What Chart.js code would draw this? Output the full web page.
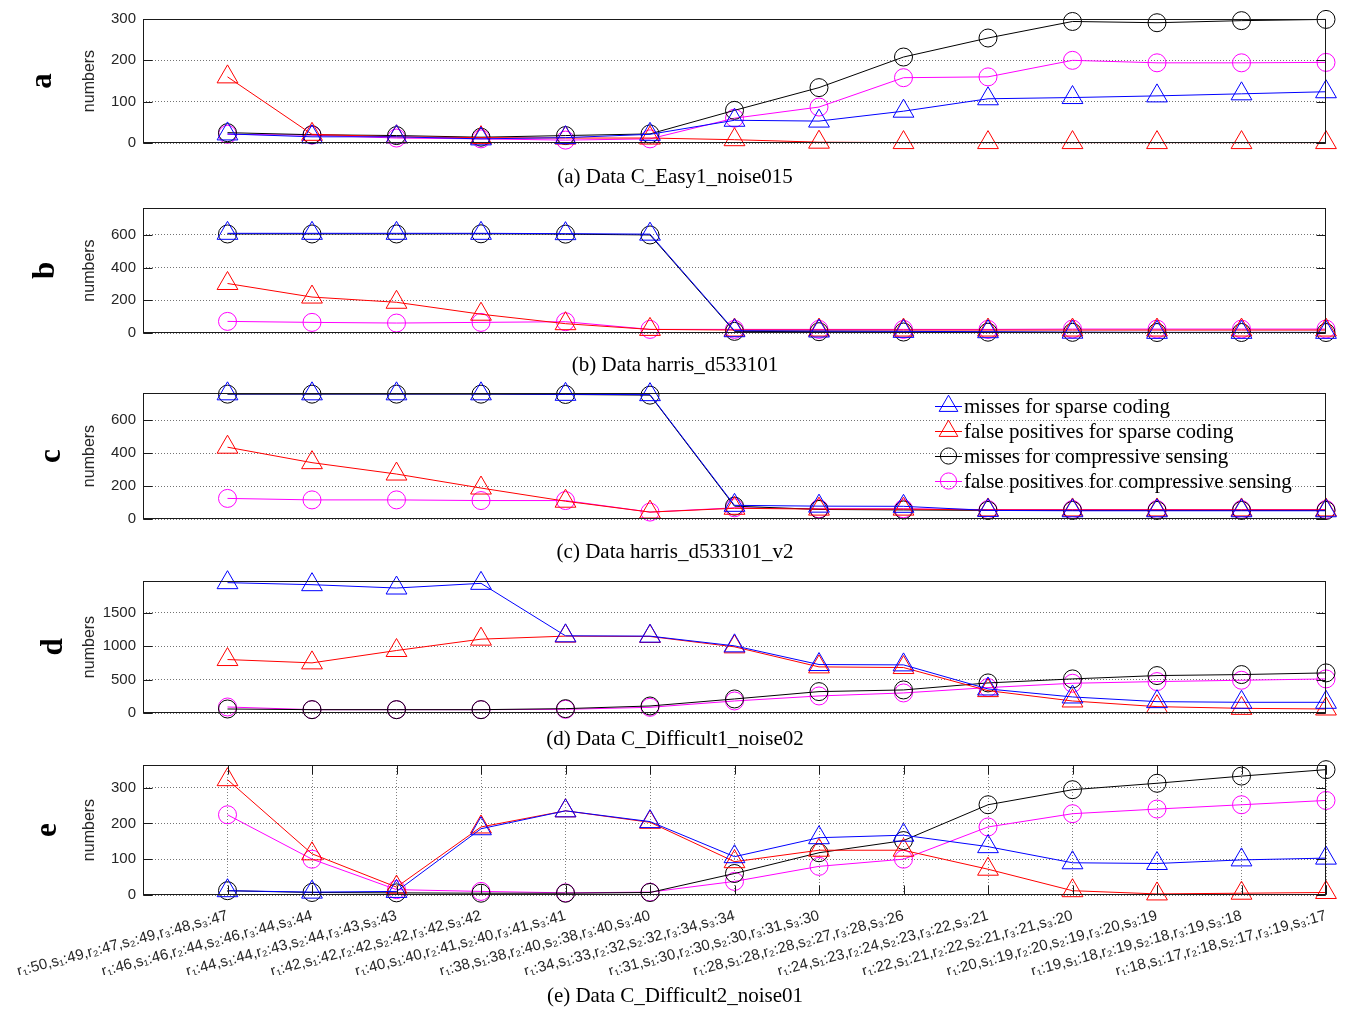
<!DOCTYPE html>
<html>
<head>
<meta charset="utf-8">
<script src="https://cdn.jsdelivr.net/npm/chart.js@4.4.1/dist/chart.umd.min.js"></script>
<style>
  html, body { margin: 0; padding: 0; background: #fff; }
  #fig { position: relative; width: 1346px; height: 1009px; overflow: hidden; background: #fff; }
  #fig canvas { position: absolute; left: 0; }
</style>
</head>
<body>
<div id="fig"></div>
<script>
// ---- series definitions ----
const seriesNames = [
  'misses for sparse coding',
  'false positives for sparse coding',
  'misses for compressive sensing',
  'false positives for compressive sensing'
];
const seriesColors = ['#0000ff', '#ff0000', '#000000', '#ff00ff'];
const seriesMarkers = ['triangle', 'triangle', 'circle', 'circle'];

// ---- parameter settings along the horizontal axis ----
const settingLabels = [
  'r₁:50,s₁:49,r₂:47,s₂:49,r₃:48,s₃:47',
  'r₁:46,s₁:46,r₂:44,s₂:46,r₃:44,s₃:44',
  'r₁:44,s₁:44,r₂:43,s₂:44,r₃:43,s₃:43',
  'r₁:42,s₁:42,r₂:42,s₂:42,r₃:42,s₃:42',
  'r₁:40,s₁:40,r₂:41,s₂:40,r₃:41,s₃:41',
  'r₁:38,s₁:38,r₂:40,s₂:38,r₃:40,s₃:40',
  'r₁:34,s₁:33,r₂:32,s₂:32,r₃:34,s₃:34',
  'r₁:31,s₁:30,r₂:30,s₂:30,r₃:31,s₃:30',
  'r₁:28,s₁:28,r₂:28,s₂:27,r₃:28,s₃:26',
  'r₁:24,s₁:23,r₂:24,s₂:23,r₃:22,s₃:21',
  'r₁:22,s₁:21,r₂:22,s₂:21,r₃:21,s₃:20',
  'r₁:20,s₁:19,r₂:20,s₂:19,r₃:20,s₃:19',
  'r₁:19,s₁:18,r₂:19,s₂:18,r₃:19,s₃:18',
  'r₁:18,s₁:17,r₂:18,s₂:17,r₃:19,s₃:17'
];

// ---- (a) C_Easy1_noise015 ----
const aMissSC = [22, 15, 15, 10, 13, 21, 55, 53, 77, 107, 110, 114, 119, 124];
const aFpSC   = [160, 21, 15, 13, 12, 12, 8, 2, 1, 1, 1, 1, 1, 1];
const aMissCS = [25, 20, 18, 14, 18, 22, 79, 134, 208, 254, 294, 291, 296, 299];
const aFpCS   = [21, 19, 12, 10, 7, 10, 60, 87, 158, 160, 200, 194, 194, 195];
const aTicks  = [0, 100, 200, 300];

// ---- (b) harris_d533101 ----
const bMissSC = [610, 610, 610, 610, 608, 605, 14, 12, 10, 8, 5, 4, 4, 4];
const bFpSC   = [303, 220, 188, 115, 57, 22, 18, 18, 18, 18, 18, 18, 18, 18];
const bMissCS = [606, 606, 606, 607, 605, 600, 10, 8, 6, 5, 4, 3, 3, 3];
const bFpCS   = [71, 65, 61, 65, 69, 22, 22, 22, 22, 22, 24, 24, 24, 24];
const bTicks  = [0, 200, 400, 600];

// ---- (c) harris_d533101_v2 ----
const cMissSC = [760, 760, 760, 760, 757, 755, 83, 78, 77, 52, 50, 50, 50, 50];
const cFpSC   = [436, 342, 273, 188, 108, 42, 65, 60, 60, 55, 55, 55, 55, 55];
const cMissCS = [758, 758, 758, 758, 756, 752, 78, 58, 55, 52, 52, 52, 52, 52];
const cFpCS   = [125, 116, 116, 112, 112, 42, 68, 62, 62, 57, 57, 57, 57, 57];
const cTicks  = [0, 200, 400, 600];

// ---- (d) C_Difficult1_noise02 ----
const dMissSC = [1950, 1920, 1870, 1940, 1155, 1150, 1005, 725, 720, 360, 240, 170, 160, 160];
const dFpSC   = [800, 750, 935, 1105, 1150, 1145, 990, 690, 680, 335, 180, 95, 70, 60];
const dMissCS = [60, 50, 50, 50, 65, 105, 210, 320, 345, 450, 510, 560, 575, 600];
const dFpCS   = [90, 50, 50, 50, 55, 85, 180, 255, 300, 380, 445, 470, 490, 510];
const dTicks  = [0, 500, 1000, 1500];

// ---- (e) C_Difficult2_noise01 ----
const eMissSC = [12, 8, 10, 185, 235, 205, 107, 160, 167, 135, 90, 88, 98, 103];
const eFpSC   = [322, 115, 22, 190, 235, 203, 93, 125, 125, 72, 12, 3, 5, 7];
const eMissCS = [12, 7, 6, 5, 5, 7, 60, 118, 152, 252, 294, 312, 332, 350];
const eFpCS   = [224, 100, 15, 10, 6, 8, 38, 80, 100, 190, 227, 240, 252, 264];
const eTicks  = [0, 100, 200, 300];

// ---- panel layout (page pixels) ----
const FIG_W = 1346;
const PLOT_LEFT = 143;
const PLOT_RIGHT = 1326;
const X_AXIS_H = 80;

const panels = [
  { letter: 'a', title: '(a) Data C_Easy1_noise015', series: [aMissSC, aFpSC, aMissCS, aFpCS], ticks: aTicks, yMax: 300,
    top: 0, height: 195, plotTop: 19, plotBottom: 143, titleY: 177, letterX: 51, xLabels: false, legend: false },
  { letter: 'b', title: '(b) Data harris_d533101', series: [bMissSC, bFpSC, bMissCS, bFpCS], ticks: bTicks, yMax: 765,
    top: 195, height: 185, plotTop: 206, plotBottom: 333, titleY: 365, letterX: 54, xLabels: false, legend: false },
  { letter: 'c', title: '(c) Data harris_d533101_v2', series: [cMissSC, cFpSC, cMissCS, cFpCS], ticks: cTicks, yMax: 765,
    top: 380, height: 188, plotTop: 393, plotBottom: 519, titleY: 552, letterX: 60, xLabels: false, legend: true },
  { letter: 'd', title: '(d) Data C_Difficult1_noise02', series: [dMissSC, dFpSC, dMissCS, dFpCS], ticks: dTicks, yMax: 1975,
    top: 568, height: 184, plotTop: 580, plotBottom: 713, titleY: 739, letterX: 62, xLabels: false, legend: false },
  { letter: 'e', title: '(e) Data C_Difficult2_noise01', series: [eMissSC, eFpSC, eMissCS, eFpCS], ticks: eTicks, yMax: 363,
    top: 752, height: 257, plotTop: 763, plotBottom: 895, titleY: 996, letterX: 56, xLabels: true, legend: false }
];

const SANS = '"Liberation Sans", Arial, "DejaVu Sans", sans-serif';
const SERIF = '"Liberation Serif", "Times New Roman", "DejaVu Serif", serif';

function markerRadius(style) { return style === 'triangle' ? 12 : 9; }

function drawMarker(ctx, style, x, y, r, color) {
  ctx.save();
  ctx.strokeStyle = color;
  ctx.lineWidth = 1;
  ctx.beginPath();
  if (style === 'triangle') {
    ctx.moveTo(x, y - r);
    ctx.lineTo(x + 0.866 * r, y + 0.5 * r);
    ctx.lineTo(x - 0.866 * r, y + 0.5 * r);
    ctx.closePath();
  } else {
    ctx.arc(x, y, r, 0, Math.PI * 2);
  }
  ctx.stroke();
  ctx.restore();
}

// Axes box, inward tick marks, axis captions and the in-plot legend
const panelDeco = {
  id: 'panelDeco',
  afterDraw(chart, args, opts) {
    const ctx = chart.ctx;
    const area = chart.chartArea;
    const ys = chart.scales.y;
    const xs = chart.scales.x;
    const TL = 9;
    ctx.save();
    ctx.strokeStyle = '#1a1a1a';
    ctx.lineWidth = 1;
    const L = Math.round(area.left) + 0.5, R = Math.round(area.right) - 0.5;
    const T = Math.round(area.top) + 0.5, B = Math.round(area.bottom) - 0.5;
    ctx.strokeRect(L, T, R - L, B - T);
    ctx.beginPath();
    ys.ticks.forEach(t => {
      const py = Math.round(ys.getPixelForValue(t.value)) + 0.5;
      ctx.moveTo(L, py); ctx.lineTo(L + TL, py);
      ctx.moveTo(R, py); ctx.lineTo(R - TL, py);
    });
    if (opts.xLabels) {
      xs.ticks.forEach(t => {
        const px = Math.round(xs.getPixelForValue(t.value)) + 0.5;
        ctx.moveTo(px, T); ctx.lineTo(px, T + TL);
        ctx.moveTo(px, B); ctx.lineTo(px, B - TL);
      });
    }
    ctx.stroke();

    const midY = (area.top + area.bottom) / 2;
    ctx.fillStyle = '#262626';
    ctx.font = '16px ' + SANS;
    ctx.textAlign = 'center';
    ctx.textBaseline = 'alphabetic';
    ctx.save();
    ctx.translate(94, midY);
    ctx.rotate(-Math.PI / 2);
    ctx.fillText('numbers', 0, 0);
    ctx.restore();

    ctx.fillStyle = '#000';
    ctx.font = 'bold 31px ' + SERIF;
    ctx.save();
    ctx.translate(opts.letterX, midY);
    ctx.rotate(-Math.PI / 2);
    ctx.fillText(opts.letter, 0, 0);
    ctx.restore();

    ctx.font = '21px ' + SERIF;
    ctx.textBaseline = 'middle';
    ctx.fillText(opts.title, 675, opts.titleY - opts.top);

    if (opts.legend) {
      const x0 = 935, x1 = 962, xm = 948.5;
      ctx.font = '21px ' + SERIF;
      ctx.textAlign = 'left';
      chart.data.datasets.forEach((ds, k) => {
        const y = 406 + 25 * k - opts.top;
        ctx.strokeStyle = ds.borderColor;
        ctx.lineWidth = 1;
        ctx.beginPath();
        ctx.moveTo(x0, y + 0.5); ctx.lineTo(x1, y + 0.5);
        ctx.stroke();
        drawMarker(ctx, ds.pointStyle, xm, y, ds.pointRadius * 0.9, ds.borderColor);
        ctx.fillStyle = '#000';
        ctx.fillText(ds.label, 964, y + 1);
      });
    }
    ctx.restore();
  }
};

const fig = document.getElementById('fig');

panels.forEach(p => {
  const cv = document.createElement('canvas');
  cv.width = FIG_W;
  cv.height = p.height;
  cv.style.top = p.top + 'px';
  cv.style.width = FIG_W + 'px';
  cv.style.height = p.height + 'px';
  fig.appendChild(cv);

  const datasets = p.series.map((vals, k) => ({
    label: seriesNames[k],
    data: vals.map((v, i) => ({ x: i + 1, y: v })),
    borderColor: seriesColors[k],
    backgroundColor: 'rgba(0,0,0,0)',
    borderWidth: 1,
    pointStyle: seriesMarkers[k],
    pointRadius: markerRadius(seriesMarkers[k]),
    pointBorderColor: seriesColors[k],
    pointBackgroundColor: 'rgba(0,0,0,0)',
    pointBorderWidth: 1,
    tension: 0,
    fill: false,
    clip: false
  }));

  const localTop = p.plotTop - p.top;
  const localBottom = p.plotBottom - p.top;
  const xH = p.xLabels ? X_AXIS_H : 0;

  new Chart(cv, {
    type: 'line',
    data: { datasets },
    options: {
      responsive: false,
      animation: false,
      devicePixelRatio: 1,
      events: [],
      layout: { padding: { left: 0, right: FIG_W - PLOT_RIGHT, top: localTop, bottom: p.height - localBottom - xH } },
      plugins: {
        legend: { display: false },
        tooltip: { enabled: false },
        panelDeco: p
      },
      scales: {
        x: {
          type: 'linear',
          min: 0,
          max: settingLabels.length,
          display: p.xLabels,
          afterBuildTicks: s => { s.ticks = settingLabels.map((_, i) => ({ value: i + 1 })); },
          afterFit: s => { s.height = xH; s.paddingLeft = 0; s.paddingRight = 0; },
          ticks: {
            autoSkip: false,
            minRotation: 15,
            maxRotation: 15,
            padding: 12,
            color: '#262626',
            font: { family: SANS, size: 15 },
            callback: v => settingLabels[v - 1]
          },
          grid: { display: true, drawTicks: false, color: 'rgba(0,0,0,0.5)', lineWidth: 1 },
          border: { display: false, dash: [1, 2] }
        },
        y: {
          min: 0,
          max: p.yMax,
          afterBuildTicks: s => { s.ticks = p.ticks.map(v => ({ value: v })); },
          afterFit: s => { s.width = PLOT_LEFT; s.paddingTop = 0; s.paddingBottom = 0; },
          ticks: {
            padding: 7,
            color: '#262626',
            font: { family: SANS, size: 15 },
            callback: v => String(v)
          },
          grid: { drawTicks: false, color: 'rgba(0,0,0,0.55)', lineWidth: 1 },
          border: { display: false, dash: [1, 2] }
        }
      }
    },
    plugins: [panelDeco]
  });
});
</script>
</body>
</html>
